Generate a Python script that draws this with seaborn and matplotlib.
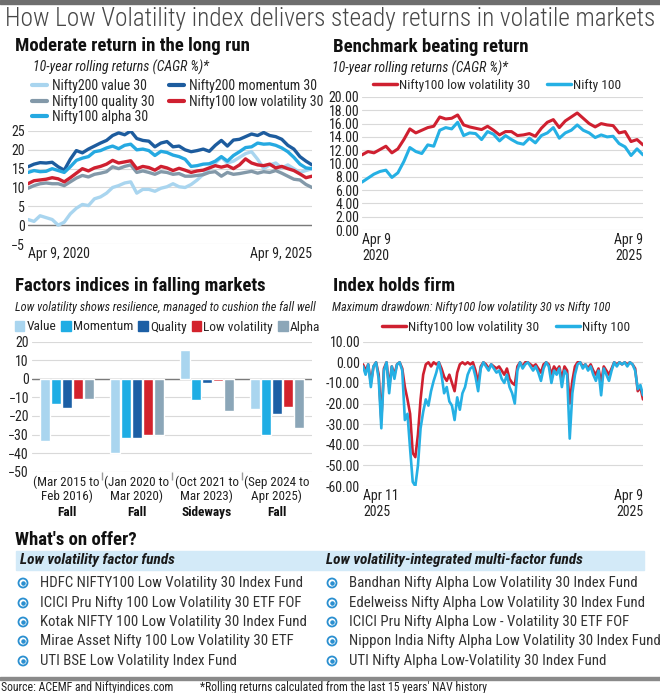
import pandas as pd
import seaborn as sns
import matplotlib.pyplot as plt
from matplotlib.lines import Line2D
from matplotlib.patches import Patch, Rectangle

W, H = 660, 693

# ---- data: 10-year rolling returns, factor indices (Apr 2020 - Apr 2025)
roll_dates = pd.date_range("2020-04-09", "2025-04-09", periods=48)
value30 = [1.5, 1, 2.5, 2, 1.5, 0, 0.8, 3, 4.5, 5.5, 5.2, 7, 7.5, 8.5, 10, 10.5,
           11.2, 11.5, 8.5, 9.5, 9.5, 9, 9.8, 10.2, 11, 10.2, 10, 10.8, 12, 13.5, 15, 16.5,
           18, 16.5, 17, 18, 19, 19.5, 17.5, 15, 16, 16.5, 15.2, 16, 15, 14, 14.5, 15]
momentum30 = [15.5, 16.2, 16.6, 16.5, 16.7, 15.5, 14.6, 17.5, 19.8, 19.2, 20.2, 21, 21.8, 22.5, 23.8, 24.5,
              24, 25, 23, 22.5, 22.3, 20.8, 21.8, 22.2, 20.8, 21, 20, 19.5, 19.8, 20.2, 19.6, 21.2,
              22.5, 21, 22.6, 22.8, 23.5, 24.2, 23.8, 24.6, 23.8, 23.5, 22.8, 21.2, 20.2, 18.2, 17, 16]
quality30 = [9.8, 10.5, 11, 11.2, 11, 11, 10.5, 11.5, 12.5, 13.2, 12.8, 13.5, 13.8, 14.2, 15.5, 15,
             15.6, 16, 14, 14.4, 14, 13.5, 14.2, 14, 13.5, 13.7, 13, 13, 13.2, 13.4, 14, 14.2,
             13, 14, 13.5, 13.7, 14, 14.3, 13.8, 14.2, 14, 14.5, 13.8, 13, 12.2, 12, 10.8, 10]
lowvol30 = [11, 11.8, 12, 12.2, 12.6, 12.3, 11.5, 12.6, 13.8, 15, 14.4, 15.2, 15.6, 16.2, 17.2, 16.5,
            16.8, 17.1, 15, 15.6, 15.3, 14.6, 15.6, 15.2, 14.5, 15.1, 14.6, 14, 14.4, 14.6, 15.2, 15.8,
            15.4, 15.8, 15, 16, 17.6, 16.5, 16, 15.8, 16.2, 15.2, 15.6, 15, 14.5, 13.6, 12.6, 13]
alpha30 = [14, 14.5, 14.2, 14.3, 15, 14.5, 14, 15.5, 17.2, 17.8, 18.2, 19.5, 19.8, 20.5, 21, 20.3,
           21.2, 21.5, 20, 20.2, 19.8, 18.5, 19.6, 19.3, 18.6, 18.2, 17.5, 15.6, 15.8, 16.2, 16.3, 17,
           18.2, 17, 18.5, 19.5, 20.6, 20.8, 21.8, 21.5, 21.6, 21.2, 20.5, 19.5, 18, 16.2, 15.2, 15]

# ---- data: low vol vs Nifty 100 rolling returns
bench_dates = pd.date_range("2020-04-09", "2025-04-09", periods=48)
bench_lowvol = [11.3, 11.8, 11.6, 12.1, 12.6, 11.6, 12.2, 13.6, 15.2, 14.6, 15, 15.4, 15.6, 17, 16.7, 16.8,
                17.3, 15.8, 15.5, 15.3, 15.1, 15.6, 15, 14.3, 14.8, 14.8, 14.2, 14.3, 14.5, 14.1, 15.3, 16.2,
                16.6, 15.4, 16.4, 17, 17.6, 16.8, 16, 15.5, 16, 15.8, 15.7, 14.6, 14.8, 13.3, 13.6, 12.8]
bench_nifty = [7.2, 7.8, 8.4, 8.8, 9, 7.9, 8.6, 10.3, 12.4, 11.8, 11.5, 12.8, 12.6, 15, 15.4, 15.2,
               16.2, 14.2, 14.6, 14.5, 13.6, 14.8, 14.4, 13.4, 14.2, 13.6, 13.1, 12.9, 13.8, 13.1, 14.2, 14.6,
               15.4, 13.8, 14.6, 15, 15.8, 15, 14.6, 13.9, 14.3, 14, 14.1, 13, 12.5, 11.2, 12.2, 11.3]

# ---- data: factor index returns in falling markets (%)
periods = ["(Mar 2015 to\nFeb 2016)", "(Jan 2020 to\nMar 2020)", "(Oct 2021 to\nMar 2023)", "(Sep 2024 to\nApr 2025)"]
phases = ["Fall", "Fall", "Sideways", "Fall"]
factors = ["Value", "Momentum", "Quality", "Low volatility", "Alpha"]
fall_value = [-33.4, -40, 15.6, -16.2]
fall_momentum = [-13.6, -31.6, -11.2, -30.3]
fall_quality = [-15.6, -31.8, -2.3, -19]
fall_lowvol = [-10.8, -30.2, -1.1, -15.3]
fall_alpha = [-11.1, -30.2, -17.3, -26.2]

# ---- data: maximum drawdown
dd_dates = pd.date_range("2010-04-11", "2025-04-09", periods=108)
dd_lowvol = [-1, -4, -1, -10, -2, 0, -6, -28, -3, 0, -12, -2, -6, -1, 0, -3, -12, -18, -25, -44,
             -46, -35, -18, -6, -1, 0, -2, 0, -1, 0, -3, -7, -9, -6, -10, -14, -5, -1, 0, -1,
             0, -1, 0, -4, -10, -2, 0, -1, -3, -1, -2, -3, -2, -4, -6, -3, -8, -10, -11, -2,
             0, -2, 0, 0, -1, -2, -1, -3, -5, -1, 0, -1, -6, -2, -4, -2, -8, -2, -4, -20,
             -9, -2, 0, 0, -2, -1, -3, -1, -4, -6, -3, -10, -2, -4, -6, -3, 0, -1, 0, -1,
             0, -1, 0, -1, -3, -14, -12, -18]
dd_nifty = [-2, -6, -1, -12, -2, 0, -8, -32, -4, 0, -15, -2, -8, -1, 0, -4, -28, -25, -42, -58,
            -60, -50, -32, -24, -18, -21, -14, -9, -5, 0, -6, -15, -12, -19, -21, -28, -17, -23, -15, -12,
            -6, -3, -2, -7, -14, -3, 0, -2, -4, -1, -3, -5, -4, -8, -10, -6, -12, -15, -20, -4,
            0, -3, -1, 0, -2, -4, -2, -5, -9, -3, 0, -2, -10, -4, -6, -3, -12, -4, -6, -37,
            -15, -6, -1, 0, -3, -1, -4, -2, -6, -9, -4, -16, -3, -6, -9, -4, 0, -2, 0, -1,
            0, -2, 0, -1, -4, -13, -11, -16]

# ---- data: fund lists
lowvol_funds = ["HDFC NIFTY100 Low Volatility 30 Index Fund",
                "ICICI Pru Nifty 100 Low Volatility 30 ETF FOF",
                "Kotak NIFTY 100 Low Volatility 30 Index Fund",
                "Mirae Asset Nifty 100 Low Volatility 30 ETF",
                "UTI BSE Low Volatility Index Fund"]
multi_funds = ["Bandhan Nifty Alpha Low Volatility 30 Index Fund",
               "Edelweiss Nifty Alpha Low Volatility 30 Index Fund",
               "ICICI Pru Nifty Alpha Low - Volatility 30 ETF FOF",
               "Nippon India Nifty Alpha Low Volatility 30 Index Fund",
               "UTI Nifty Alpha Low-Volatility 30 Index Fund"]

# colours
C_VALUE = "#a9d5ef"
C_MOM = "#1d5c9e"
C_QUAL = "#8399a9"
C_RED = "#cf2030"
C_ALPHA = "#25a9e1"
C_NIFTY = "#25b0e4"

sns.set_theme(style="white")
plt.rcParams["font.family"] = ["Roboto Condensed", "DejaVu Sans"]

fig = plt.figure(figsize=(6.6, 6.93), dpi=100)


def add_ax(x0, y0, x1, y1):
    return fig.add_axes([x0 / W, 1 - y1 / H, (x1 - x0) / W, (y1 - y0) / H])


def ftext(x, y, s, **kw):
    kw.setdefault("va", "center")
    fig.text(x / W, 1 - y / H, s, **kw)


def style_ax(ax):
    for s in ax.spines.values():
        s.set_visible(False)
    ax.grid(axis="y", color="#d9d9d9", lw=0.8)
    ax.grid(axis="x", visible=False)
    ax.tick_params(axis="both", length=0, labelsize=10, colors="#222222", pad=2)
    ax.set_xlabel("")
    ax.set_ylabel("")


def end_labels(ax, x0, x1, l0, l1):
    ax.set_xticks([x0, x1])
    ax.set_xticklabels([l0, l1])
    labs = ax.get_xticklabels()
    labs[0].set_ha("left")
    labs[1].set_ha("right")
    ax.set_xlim(x0, x1)


# background layer for decorations
bg = fig.add_axes([0, 0, 1, 1], zorder=-5)
bg.set_xlim(0, W)
bg.set_ylim(H, 0)
bg.axis("off")
bg.add_patch(Rectangle((0, 0), W, 4, color="#6e6e6e"))
bg.add_patch(Rectangle((0, 677), W, 2.5, color="#8a8a8a"))
bg.add_patch(Rectangle((16, 551), 628, 18.5, color="#d3eaf8"))

ftext(5, 19, "How Low Volatility index delivers steady returns in volatile markets",
      fontsize=18.2, color="#474747", fontweight="light")

TITLE = dict(fontsize=13.5, fontweight="bold", color="#111111")
SUB = dict(fontsize=10, style="italic", color="#222222")
SUB2 = dict(fontsize=8.8, style="italic", color="#222222")
LEG2 = dict(ncol=2, loc="center", bbox_transform=fig.transFigure, frameon=False, fontsize=9.6,
            handlelength=1.8, handletextpad=0.15, columnspacing=1.3, borderpad=0, borderaxespad=0)

# ---------------- panel 1
ftext(15, 46, "Moderate return in the long run", **TITLE)
ftext(33, 67, "10-year rolling returns (CAGR %)*", **SUB)
ax1 = add_ax(28, 131, 312, 244)
df1 = pd.DataFrame({"date": list(roll_dates) * 5,
                    "cagr": value30 + momentum30 + quality30 + lowvol30 + alpha30,
                    "index": (["Nifty200 value 30"] * 48 + ["Nifty200 momentum 30"] * 48 +
                              ["Nifty100 quality 30"] * 48 + ["Nifty100 low volatility 30"] * 48 +
                              ["Nifty100 alpha 30"] * 48)})
pal1 = {"Nifty200 value 30": C_VALUE, "Nifty200 momentum 30": C_MOM,
        "Nifty100 quality 30": C_QUAL, "Nifty100 low volatility 30": C_RED,
        "Nifty100 alpha 30": C_ALPHA}
sns.lineplot(data=df1, x="date", y="cagr", hue="index", palette=pal1, lw=2.4,
             legend=False, ax=ax1)
style_ax(ax1)
ax1.set_ylim(-5, 25)
ax1.set_yticks(range(-5, 26, 5))
ax1.axhline(0, color="#7a7a7a", lw=1, zorder=1)
end_labels(ax1, roll_dates[0], roll_dates[-1], "Apr 9, 2020", "Apr 9, 2025")
order1 = ["Nifty200 value 30", "Nifty100 quality 30", "Nifty100 alpha 30",
          "Nifty200 momentum 30", "Nifty100 low volatility 30"]
h1 = [Line2D([], [], color=pal1[k], lw=3) for k in order1]
ax1.legend(h1, order1, ncol=2, loc="upper left", bbox_to_anchor=(32 / W, 1 - 79 / H),
           bbox_transform=fig.transFigure, frameon=False, fontsize=10, handlelength=1.1,
           handletextpad=0.35, labelspacing=0.12, columnspacing=1.0, borderpad=0, borderaxespad=0)

# ---------------- panel 2
ftext(333, 47, "Benchmark beating return", **TITLE)
ftext(332, 68, "10-year rolling returns (CAGR %)*", **SUB)
ax2 = add_ax(362, 97, 643, 230)
df2 = pd.DataFrame({"date": list(bench_dates) * 2,
                    "cagr": bench_lowvol + bench_nifty,
                    "index": ["Nifty100 low volatility 30"] * 48 + ["Nifty 100"] * 48})
pal2 = {"Nifty100 low volatility 30": C_RED, "Nifty 100": C_NIFTY}
sns.lineplot(data=df2, x="date", y="cagr", hue="index", palette=pal2, lw=2.2,
             legend=False, ax=ax2)
style_ax(ax2)
ax2.set_ylim(0, 20)
ax2.set_yticks(range(0, 21, 2))
ax2.set_yticklabels([f"{v:.2f}" for v in range(0, 21, 2)])
end_labels(ax2, bench_dates[0], bench_dates[-1], "Apr 9\n2020", "Apr 9\n2025")
h2 = [Line2D([], [], color=pal2[k], lw=2.5) for k in pal2]
ax2.legend(h2, list(pal2), bbox_to_anchor=(497 / W, 1 - 85 / H), **LEG2)

# ---------------- panel 3
ftext(15, 286, "Factors indices in falling markets", **TITLE)
ftext(15, 307, "Low volatility shows resilience, managed to cushion the fall well", **SUB2)
ax3 = add_ax(31.7, 341.7, 311.7, 471.7)
df3 = pd.DataFrame({"period": periods * 5,
                    "change": fall_value + fall_momentum + fall_quality + fall_lowvol + fall_alpha,
                    "factor": [f for f in factors for _ in periods]})
pal3 = {"Value": C_VALUE, "Momentum": "#1fade4", "Quality": "#1c5fa5",
        "Low volatility": "#d3222c", "Alpha": "#8ba6b8"}
sns.barplot(data=df3, x="period", y="change", hue="factor", palette=pal3, width=0.78,
            gap=0.08, saturation=1, legend=False, ax=ax3, zorder=3)
style_ax(ax3)
ax3.set_ylim(-50, 20)
ax3.set_yticks(range(-50, 21, 10))
ax3.axhline(0, color="#7a7a7a", lw=1, zorder=2)
ax3.set_xlim(-0.5, 3.5)
ax3.set_xticks([0.5, 1.5, 2.5], minor=True)
ax3.tick_params(axis="x", which="minor", length=6, width=1, color="#9a9a9a", bottom=True)
ax3.tick_params(axis="x", which="major", labelsize=9.4, pad=3)
for lab in ax3.get_xticklabels():
    lab.set_linespacing(1.05)
for i, ph in enumerate(phases):
    ax3.text(i, -0.315, ph, transform=ax3.get_xaxis_transform(), ha="center", va="center",
             fontsize=9.6, fontweight="bold", color="#111111")
h3 = [Patch(color=pal3[f]) for f in factors]
ax3.legend(h3, factors, ncol=5, loc="center left", bbox_to_anchor=(15 / W, 1 - 327 / H),
           bbox_transform=fig.transFigure, frameon=False, fontsize=9.6, handlelength=0.7,
           handleheight=0.7, handletextpad=0.15, columnspacing=0.4, borderpad=0, borderaxespad=0)

# ---------------- panel 4
ftext(333, 286, "Index holds firm", **TITLE)
ftext(332, 307, "Maximum drawdown: Nifty100 low volatility 30 vs Nifty 100", **SUB2)
ax4 = add_ax(363, 341.7, 643, 486)
df4 = pd.DataFrame({"date": list(dd_dates) * 2,
                    "dd": dd_lowvol + dd_nifty,
                    "index": ["Nifty100 low volatility 30"] * 108 + ["Nifty 100"] * 108})
sns.lineplot(data=df4, x="date", y="dd", hue="index", palette=pal2, lw=1.9,
             legend=False, ax=ax4)
ax4.lines[1].set_zorder(3)
ax4.lines[0].set_zorder(2)
style_ax(ax4)
ax4.set_ylim(-60, 10)
ax4.set_yticks(range(-60, 11, 10))
ax4.set_yticklabels([f"{v:.2f}" for v in range(-60, 11, 10)])
end_labels(ax4, dd_dates[0], dd_dates[-1], "Apr 11\n2025", "Apr 9\n2025")
ax4.legend(h2, list(pal2), bbox_to_anchor=(506 / W, 1 - 327 / H), **LEG2)

# ---------------- fund lists
ftext(15, 540, "What's on offer?", **TITLE)
ftext(20, 560, "Low volatility factor funds", fontsize=11, fontweight="bold",
      style="italic", color="#1a1a1a")
ftext(326, 560, "Low volatility-integrated multi-factor funds", fontsize=11, fontweight="bold",
      style="italic", color="#1a1a1a")
rows_y = [583, 603, 622, 641, 661]
for col_x, funds in [(23, lowvol_funds), (332, multi_funds)]:
    bg.scatter([col_x] * len(funds), rows_y, s=42, facecolors="none",
               edgecolors="#2a8fd0", linewidths=1.3)
    bg.scatter([col_x] * len(funds), rows_y, s=5, color="#2a8fd0")
    for y, name in zip(rows_y, funds):
        ftext(col_x + 17, y, name, fontsize=10.7, color="#333333")

ftext(1, 687, "Source: ACEMF and Niftyindices.com", fontsize=8.5, color="#222222")
ftext(200, 687, "*Rolling returns calculated from the last 15 years' NAV history",
      fontsize=8.5, color="#222222")

fig.savefig("out.png", dpi=100)
